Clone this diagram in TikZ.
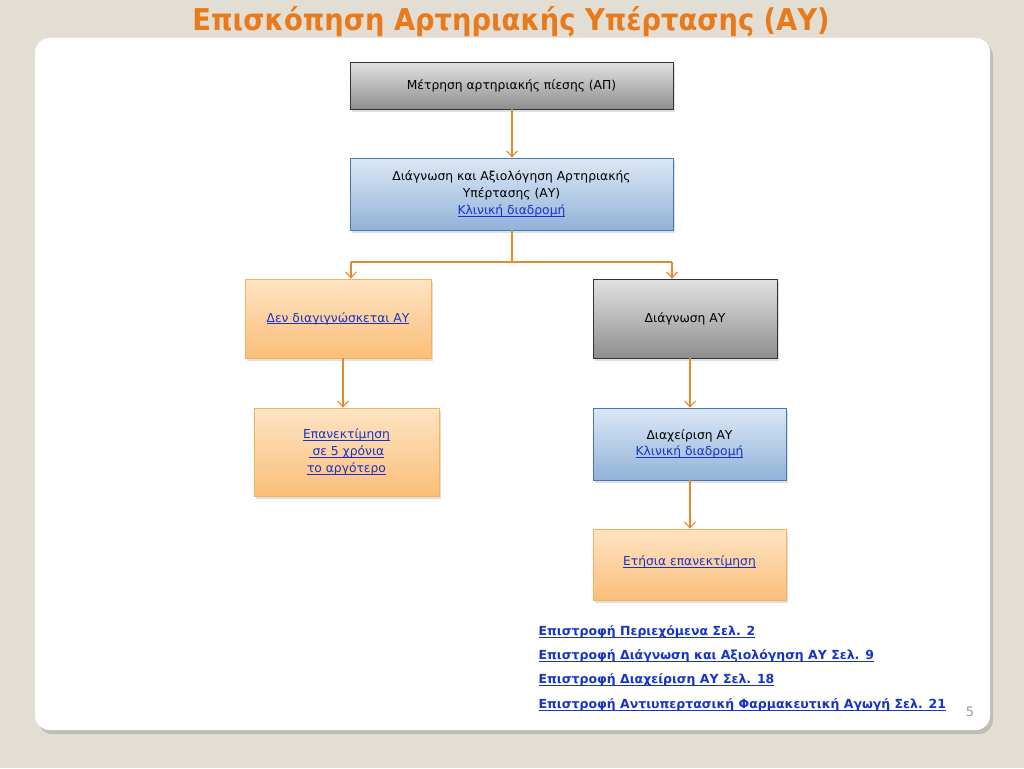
\documentclass[tikz,border=0pt]{standalone}
\usepackage{fontspec}
\setmainfont{DejaVu Sans}
\usetikzlibrary{shadows,arrows.meta}
\definecolor{bg}{RGB}{226,222,211}
\definecolor{ttl}{RGB}{232,122,28}
\definecolor{arrc}{RGB}{228,138,46}
\definecolor{lnk}{RGB}{24,52,200}
\definecolor{grayT}{RGB}{226,226,226}
\definecolor{grayB}{RGB}{142,142,142}
\definecolor{blueT}{RGB}{220,232,246}
\definecolor{blueB}{RGB}{146,178,216}
\definecolor{blueD}{RGB}{70,120,180}
\definecolor{orT}{RGB}{254,228,196}
\definecolor{orB}{RGB}{251,190,120}
\definecolor{orD}{RGB}{246,176,96}
\newcommand{\myul}[1]{\setbox0\hbox{#1}\rlap{\rule[-1.8pt]{\wd0}{0.7pt}}\box0}
\newcommand{\lk}[1]{\textcolor{lnk}{\myul{#1}}}
\tikzset{
  box/.style={rectangle, inner sep=0pt, align=center, font=\fontsize{12.3}{17}\selectfont, line width=0.8pt,
     drop shadow={shadow xshift=2pt, shadow yshift=-3pt, opacity=0.25}},
  graybox/.style={box, draw=black!80, top color=grayT, bottom color=grayB},
  bluebox/.style={box, draw=blueD, top color=blueT, bottom color=blueB},
  orbox/.style={box, draw=orD, top color=orT, bottom color=orB},
  arr/.style={draw=arrc, line width=1.1pt, -{Straight Barb[length=6pt,width=11pt]}},
  ln/.style={draw=arrc, line width=1.1pt},
  linkline/.style={anchor=west, font=\fontsize{12.5}{15}\selectfont\bfseries, text=lnk}
}
\begin{document}
\begin{tikzpicture}[x=1pt,y=-1pt]
\useasboundingbox (0,0) rectangle (1024,768);
\fill[bg] (0,0) rectangle (1024,768);
\fill[white, rounded corners=14pt, drop shadow={shadow xshift=3pt, shadow yshift=-4pt, opacity=0.35}] (35,38) rectangle (990,730);
\node[font=\fontsize{30}{32}\selectfont\bfseries, text=ttl, xscale=0.91] (title) at (511,22) {Επισκόπηση Αρτηριακής Υπέρτασης (ΑΥ)};

\node[graybox, minimum width=323pt, minimum height=47pt] (b1) at (511.5,85.5) {\raisebox{-1.5pt}{Μέτρηση αρτηριακής πίεσης (ΑΠ)}};
\node[bluebox, minimum width=323pt, minimum height=72pt] (b2) at (511.5,194) {Διάγνωση και Αξιολόγηση Αρτηριακής\\Υπέρτασης (ΑΥ)\\\lk{Κλινική διαδρομή}};
\node[orbox, minimum width=186pt, minimum height=79pt] (b3) at (338,318.5) {\raisebox{-2pt}{\lk{Δεν διαγιγνώσκεται ΑΥ}}};
\node[graybox, minimum width=184pt, minimum height=79pt] (b4) at (685,318.5) {\raisebox{-2pt}{Διάγνωση ΑΥ}};
\node[orbox, minimum width=185pt, minimum height=88pt] (b5) at (346.5,452) {\lk{Επανεκτίμηση}\\\lk{ σε 5 χρόνια}\\\lk{το αργότερο}};
\node[bluebox, minimum width=193pt, minimum height=72pt] (b6) at (689.5,444) {\raisebox{8pt}{\begin{tabular}{@{}c@{}}Διαχείριση ΑΥ\\[-1pt]\lk{Κλινική διαδρομή}\end{tabular}}};
\node[orbox, minimum width=193pt, minimum height=71pt] (b7) at (689.5,564.5) {\raisebox{7pt}{\lk{Ετήσια επανεκτίμηση}}};

\coordinate (j) at (512,262);
\coordinate (jl) at (351,262);
\coordinate (jr) at (672,262);
\coordinate (rc) at (690,0);
\draw[arr] (b1.south -| j) -- (b2.north -| j);
\draw[ln] (b2.south -| j) -- (j);
\draw[ln] (jl) -- (jr);
\draw[arr] (jl) -- (jl |- b3.north);
\draw[arr] (jr) -- (jr |- b4.north);
\draw[arr] ([xshift=5pt]b3.south) -- ([xshift=5pt]b3.south |- b5.north);
\draw[arr] (b4.south -| rc) -- (b6.north -| rc);
\draw[arr] (b6.south -| rc) -- (b7.north -| rc);

\node[linkline] (l1) at (535,632) {\myul{Επιστροφή Περιεχόμενα Σελ. 2}};
\node[linkline] (l2) at (535,656) {\myul{Επιστροφή Διάγνωση και Αξιολόγηση ΑΥ Σελ. 9}};
\node[linkline] (l3) at (535,680) {\myul{Επιστροφή Διαχείριση ΑΥ Σελ. 18}};
\node[linkline] (l4) at (535,705) {\myul{Επιστροφή Αντιυπερτασική Φαρμακευτική Αγωγή Σελ. 21}};
\node[font=\fontsize{13}{15}\selectfont, text=black!40] (pg) at (970,712) {5};
\end{tikzpicture}
\end{document}
